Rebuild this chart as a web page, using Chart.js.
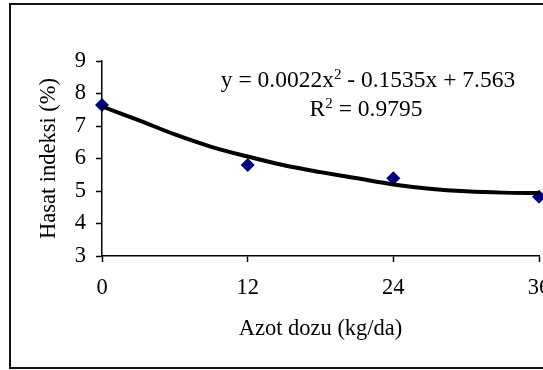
<!DOCTYPE html>
<html>
<head>
<meta charset="utf-8">
<script src="https://cdn.jsdelivr.net/npm/chart.js@4/dist/chart.umd.min.js"></script>
<style>
  html, body { margin: 0; padding: 0; background: #fff; overflow: hidden; }
  #wrap { position: relative; width: 543px; height: 370px; overflow: hidden; }
  #frame { position: absolute; left: 9px; top: 3px; width: 600px; height: 366px;
           box-sizing: border-box; border: 2px solid #111; }
  #c { position: absolute; left: 0; top: 0; }
</style>
</head>
<body>
<div id="wrap">
  <div id="frame"></div>
  <canvas id="c" width="600" height="370"></canvas>
</div>
<script>
// observed points
const doseX = [0, 12, 24, 36];
const harvestIndex = [7.65, 5.8, 5.39, 4.82];

// trendline
const trendX = [0, 3, 6, 9, 12, 15, 18, 21, 24, 27, 30, 33, 36];
const trendY = [7.6, 7.18, 6.74, 6.36, 6.06, 5.79, 5.58, 5.39, 5.2, 5.07, 4.99, 4.95, 4.94];

const xTicks = [0, 12, 24, 36];
const yTicks = [3, 4, 5, 6, 7, 8, 9];

const eqLine1 = ['y = 0.0022x', '2', ' - 0.1535x + 7.563'];
const eqLine2 = ['R', '2', ' = 0.9795'];

const serif = 'Liberation Serif';

// equation text drawn like a text box
const equationPlugin = {
  id: 'equation',
  afterDraw(chart) {
    const ctx = chart.ctx;
    function line(parts, cx, baseline) {
      const big = '23.5px "' + serif + '"';
      const small = '15px "' + serif + '"';
      ctx.font = big;
      const w0 = ctx.measureText(parts[0]).width;
      const w2 = ctx.measureText(parts[2]).width;
      ctx.font = small;
      const w1 = ctx.measureText(parts[1]).width;
      let x = cx - (w0 + w1 + w2) / 2;
      ctx.save();
      ctx.fillStyle = '#000';
      ctx.textBaseline = 'alphabetic';
      ctx.textAlign = 'left';
      ctx.font = big;
      ctx.fillText(parts[0], x, baseline);
      x += w0;
      ctx.font = small;
      ctx.fillText(parts[1], x, baseline - 8);
      x += w1;
      ctx.font = big;
      ctx.fillText(parts[2], x, baseline);
      ctx.restore();
    }
    line(eqLine1, 368, 87);
    line(eqLine2, 366, 116);
  }
};

const ctx = document.getElementById('c').getContext('2d');
new Chart(ctx, {
  type: 'scatter',
  data: {
    datasets: [{
      label: 'Hasat indeksi',
      data: doseX.map((x, i) => ({ x: x, y: harvestIndex[i] })),
      pointStyle: 'rectRot',
      pointRadius: 7,
      pointBackgroundColor: '#000080',
      pointBorderColor: '#000080',
      pointBorderWidth: 0,
      showLine: false,
      clip: false,
      order: 1
    }, {
      label: 'Trend',
      data: trendX.map((x, i) => ({ x: x, y: trendY[i] })),
      showLine: true,
      borderColor: '#000',
      borderWidth: 4,
      pointRadius: 0,
      tension: 0.3,
      clip: false,
      order: 0
    }]
  },
  options: {
    responsive: false,
    animation: false,
    layout: { padding: { left: 0, top: 61, right: 61, bottom: 24 } },
    plugins: {
      legend: { display: false },
      tooltip: { enabled: false }
    },
    scales: {
      x: {
        type: 'linear',
        min: 0,
        max: 36,
        afterBuildTicks: (s) => { s.ticks = xTicks.map(v => ({ value: v })); },
        afterFit: (s) => { s.height = 90; },
        ticks: {
          color: '#000',
          padding: 13,
          font: { family: serif, size: 22.5 }
        },
        grid: { drawOnChartArea: false, tickLength: 6, color: '#000', tickWidth: 1.5 },
        border: { color: '#000', width: 1.5 },
        title: {
          display: true,
          text: 'Azot dozu (kg/da)',
          color: '#000',
          font: { family: serif, size: 22.5 },
          padding: { top: 0, bottom: 3 }
        }
      },
      y: {
        min: 3,
        max: 9,
        afterBuildTicks: (s) => { s.ticks = yTicks.map(v => ({ value: v })); },
        afterFit: (s) => { s.width = 102; },
        ticks: {
          color: '#000',
          padding: 10,
          font: { family: serif, size: 22.5 }
        },
        grid: { drawOnChartArea: false, tickLength: 6, color: '#000', tickWidth: 1.5 },
        border: { color: '#000', width: 1.5 },
        title: {
          display: true,
          text: 'Hasat indeksi (%)',
          color: '#000',
          font: { family: serif, size: 22.5 },
          padding: { top: 36, bottom: 0 }
        }
      }
    }
  },
  plugins: [equationPlugin]
});
</script>
</body>
</html>
